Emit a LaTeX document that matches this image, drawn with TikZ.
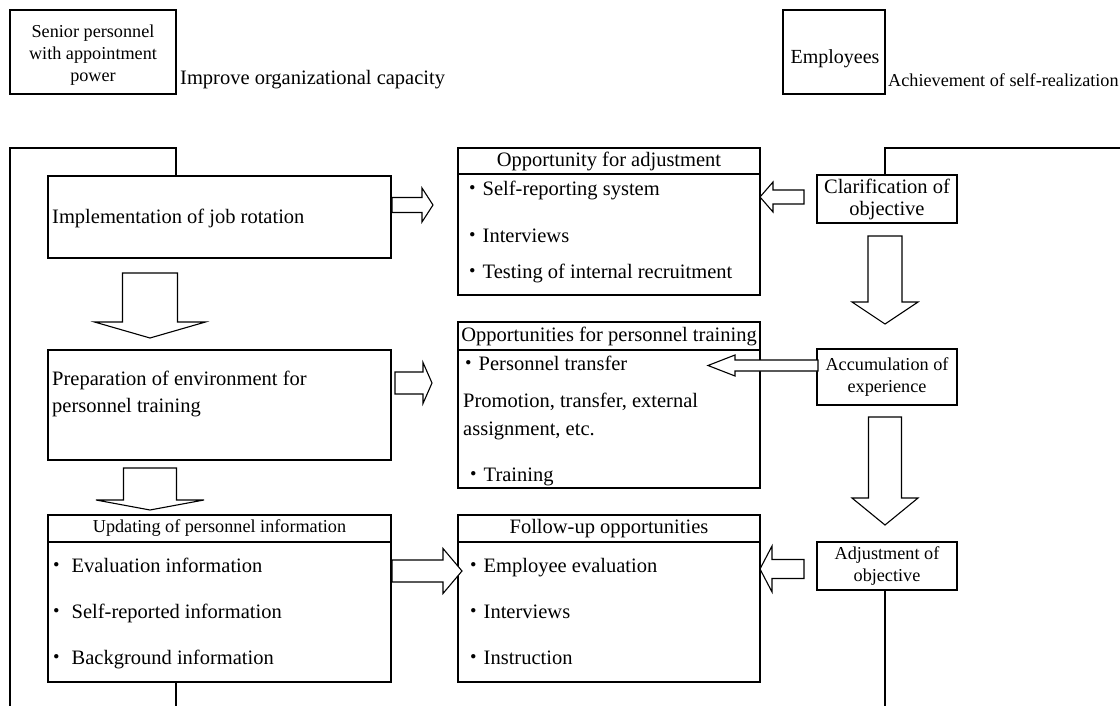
\documentclass[tikz,border=0pt]{standalone}
\usepackage{fontspec}
\setmainfont{Liberation Serif}
\newfontfamily\cjk{Noto Sans CJK JP}
\newcommand\blkH[6]{% tail x, tip x, base x, cy, shaft half, head half
 \draw[barrow] (#1,{#4-#5}) -- (#3,{#4-#5}) -- (#3,{#4-#6}) -- (#2,#4) -- (#3,{#4+#6}) -- (#3,{#4+#5}) -- (#1,{#4+#5}) -- cycle;}
\newcommand\blkV[6]{% cx, tail y, tip y, base y, shaft half, head half
 \draw[barrow] ({#1-#5},#2) -- ({#1-#5},#4) -- ({#1-#6},#4) -- (#1,#3) -- ({#1+#6},#4) -- ({#1+#5},#4) -- ({#1+#5},#2) -- cycle;}
\begin{document}
\begin{tikzpicture}[x=1pt,y=-1pt,
  box/.style={draw, line width=2.2pt, anchor=north west, inner sep=0pt, outer sep=0pt, align=center, font=\fontsize{20.5}{22}\selectfont},
  sbox/.style={box, font=\fontsize{18.2}{21.5}\selectfont},
  txt/.style={inner sep=0pt, anchor=base west, font=\fontsize{20.5}{24}\selectfont},
  barrow/.style={draw, line width=1.1pt, line join=miter, fill=white},
  bracket/.style={line width=1.8pt}]
\useasboundingbox (0,0) rectangle (1120,706);

% top labels
\node[box, minimum width=166, minimum height=84] (senior) at (10,10) {};
\node[inner sep=0pt, align=center, font=\fontsize{18.2}{22}\selectfont] (seniortxt) at ([yshift=-3pt]senior.center) {Senior personnel\\with appointment\\power};
\node[txt] (improve) at (180,85) {Improve organizational capacity};
\node[box, minimum width=102, minimum height=84] (empl) at (783,10) {};
\node[inner sep=0pt, anchor=base, font=\fontsize{20}{24}\selectfont] (empltxt) at (835,64) {Employees};
\node[txt, font=\fontsize{18.2}{22}\selectfont] (achieve) at (888,87) {Achievement of self-realization};

% left column
\node[box, minimum width=343, minimum height=82] (job) at (48,176) {};
\node[txt] (jobtxt) at (52,223) {Implementation of job rotation};
\node[box, minimum width=343, minimum height=110] (prep) at (48,350) {};
\node[txt] (preptxt1) at (52,385) {Preparation of environment for};
\node[txt] (preptxt2) at (52,412) {personnel training};
\node[sbox, minimum width=343, minimum height=27] (updh) at (48,515) {Updating of personnel information};
\node[box, minimum width=343, minimum height=140] (upd) at (48,542) {};
\node[txt] (upd1) at (46,572) {{\cjk ・}\hspace{5pt}Evaluation information};
\node[txt] (upd2) at (46,618) {{\cjk ・}\hspace{5pt}Self-reported information};
\node[txt] (upd3) at (46,664) {{\cjk ・}\hspace{5pt}Background information};

% middle column
\node[box, minimum width=302, minimum height=26] (opph) at (458,148) {Opportunity for adjustment};
\node[box, minimum width=302, minimum height=121] (opp) at (458,174) {};
\node[txt] (opp1) at (462,196) {{\cjk ・}Self-reporting system};
\node[txt] (opp2) at (462,243) {{\cjk ・}Interviews};
\node[txt] (opp3) at (462,278) {{\cjk ・}Testing of internal recruitment};
\node[box, minimum width=302, minimum height=28] (trh) at (458,322) {Opportunities for personnel training};
\node[box, minimum width=302, minimum height=138] (tr) at (458,350) {};
\node[txt] (tr1) at (458,370) {{\cjk ・}Personnel transfer};
\node[txt] (tr2) at (463,407) {Promotion, transfer, external};
\node[txt] (tr3) at (463,435) {assignment, etc.};
\node[txt] (tr4) at (463,481) {{\cjk ・}Training};
\node[box, minimum width=302, minimum height=27] (folh) at (458,515) {Follow-up opportunities};
\node[box, minimum width=302, minimum height=140] (fol) at (458,542) {};
\node[txt] (fol1) at (463,572) {{\cjk ・}Employee evaluation};
\node[txt] (fol2) at (463,618) {{\cjk ・}Interviews};
\node[txt] (fol3) at (463,664) {{\cjk ・}Instruction};

% right column
\node[box, minimum width=140, minimum height=48] (clar) at (817,175) {Clarification of\\objective};
\node[sbox, minimum width=140, minimum height=56] (acc) at (817,349) {Accumulation of\\experience};
\node[sbox, minimum width=140, minimum height=48] (adj) at (817,542) {Adjustment of\\objective};

% brackets
\coordinate (lb) at (10,706);
\coordinate (ltl) at (10,148);
\coordinate (ltr) at (176,148);
\coordinate (lbot) at (176,706);
\draw[bracket] (lb) -- (ltl) -- (ltr) -- (ltr |- job.north);
\draw[bracket] (upd.south -| lbot) -- (lbot);
\coordinate (rtr) at (1120,148);
\coordinate (rtl) at (885,148);
\coordinate (rbot) at (885,706);
\draw[bracket] (rtr) -- (rtl) -- (rtl |- clar.north);
\draw[bracket] (adj.south -| rbot) -- (rbot);

% block arrows
\blkH{392}{433}{422}{205}{7.5}{17}
\blkH{395}{432}{423}{383}{11}{20.5}
\blkH{392}{462}{443}{571}{11}{22.5}
\blkH{804}{760}{773}{197}{7}{15}
\blkH{818}{708}{735}{365.5}{5.5}{10.5}
\blkH{804}{760}{772}{569}{9.5}{23}
\blkV{885}{236}{324}{302}{17}{33}
\blkV{885}{417}{525}{498}{16.5}{33}
\blkV{150}{273}{338}{322}{27.5}{55.5}
\blkV{150}{468}{510}{500}{26.5}{54}
\end{tikzpicture}
\end{document}
